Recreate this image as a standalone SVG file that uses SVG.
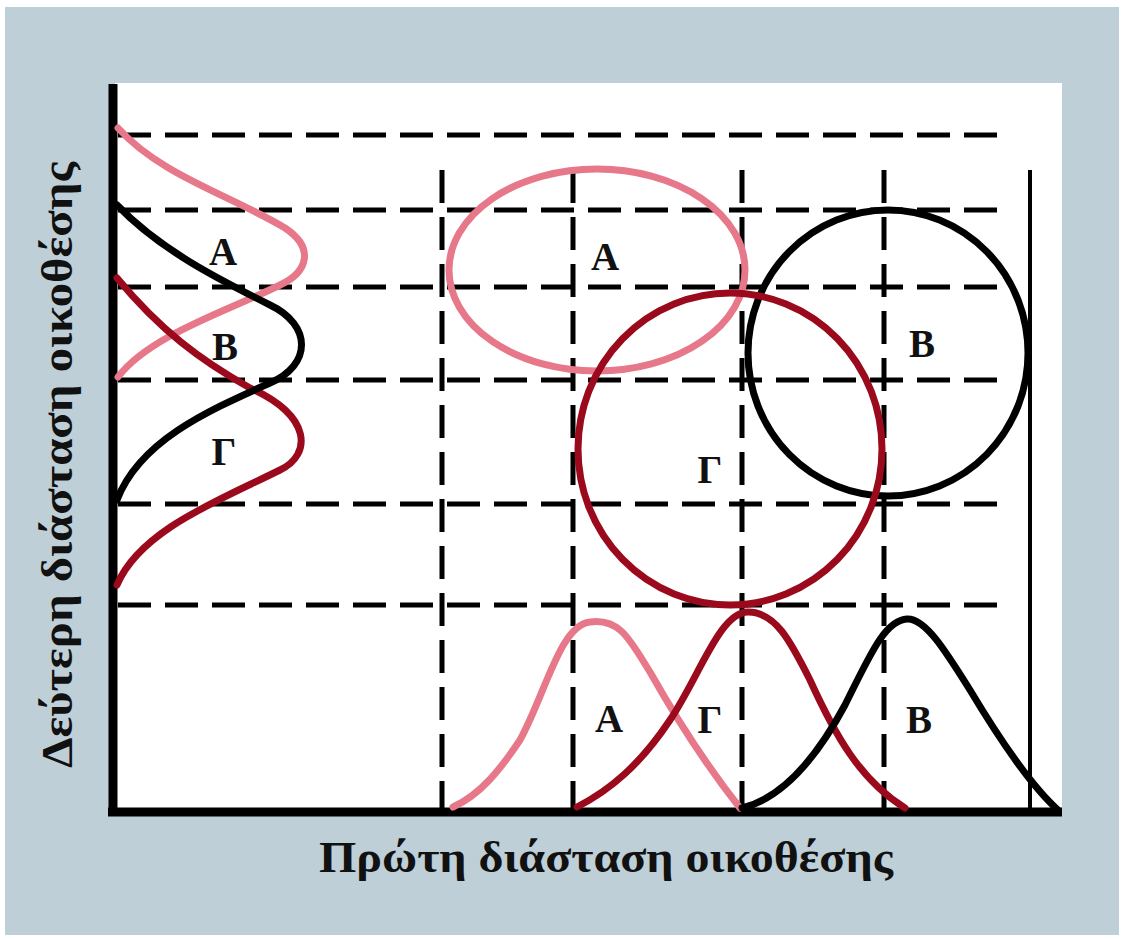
<svg xmlns="http://www.w3.org/2000/svg" width="1124" height="940" viewBox="0 0 1124 940">
<defs>
<style>
.dash{stroke:#000;stroke-width:5;stroke-dasharray:33 14;fill:none}
.solid{stroke:#000;fill:none}
.pink{stroke:#E6788A;stroke-width:7;fill:none;stroke-linecap:round}
.red{stroke:#9A0A1C;stroke-width:7;fill:none;stroke-linecap:round}
.blk{stroke:#000;stroke-width:7;fill:none;stroke-linecap:round}
.lbl{font-family:"Liberation Serif","DejaVu Serif",serif;font-weight:bold;font-size:39px;fill:#111;text-anchor:middle}
.axis{font-family:"Liberation Serif","DejaVu Serif",serif;font-weight:bold;font-size:44px;fill:#111;text-anchor:middle}
</style>
</defs>
<rect x="0" y="0" width="1124" height="940" fill="#fff"/>
<rect x="5" y="7" width="1114" height="928" fill="#BECFD8"/>
<rect x="115" y="83" width="947" height="729" fill="#fff"/>

<g id="grid">
<line class="dash" x1="118" y1="135" x2="997" y2="135"/>
<line class="dash" x1="118" y1="210" x2="997" y2="210"/>
<line class="dash" x1="118" y1="287" x2="997" y2="287"/>
<line class="dash" x1="118" y1="380" x2="997" y2="380"/>
<line class="dash" x1="118" y1="504" x2="997" y2="504"/>
<line class="dash" x1="118" y1="605" x2="997" y2="605"/>
<line class="dash" x1="442" y1="170" x2="442" y2="812"/>
<line class="dash" x1="573" y1="170" x2="573" y2="812"/>
<line class="dash" x1="742" y1="170" x2="742" y2="812"/>
<line class="dash" x1="884" y1="170" x2="884" y2="812"/>
<line class="solid" stroke-width="4" x1="1030" y1="170" x2="1030" y2="812"/>
</g>

<g id="axes">
<line class="solid" stroke-width="9" x1="113" y1="84" x2="113" y2="816"/>
<line class="solid" stroke-width="9" x1="108" y1="812" x2="1062" y2="812"/>
</g>

<g id="circles">
<ellipse id="circleB" class="blk" cx="888" cy="353" rx="140" ry="143"/>
<ellipse id="circleA" class="pink" cx="597" cy="270" rx="148" ry="101"/>
<ellipse id="circleG" class="red" cx="730" cy="449" rx="152" ry="156"/>
</g>

<g id="left-curves">
<path id="leftA" class="pink" d="M118,128 C160,175 230,195 285,228 C315,248 308,272 280,285 C230,310 150,335 118,377"/>
<path id="leftG" class="red" d="M117,278 C160,330 200,360 250,388 C312,415 312,455 280,470 C220,500 140,530 117,585"/>
<path id="leftB" class="blk" d="M117,205 C160,250 220,280 270,305 C312,325 312,365 270,383 C210,410 140,440 117,500"/>
</g>

<g id="bottom-curves">
<path id="botA" class="pink" d="M453,807 C480,795 500,770 520,740 C545,695 560,625 590,622 C620,618 630,640 650,672 C680,725 710,770 740,808"/>
<path id="botG" class="red" d="M577,807 C610,790 640,765 670,720 C700,675 720,612 748,612 C775,612 790,640 810,680 C835,735 860,780 905,808"/>
<path id="botB" class="blk" d="M742,808 C775,800 810,770 845,705 C870,655 885,620 907,619 C925,618 945,650 970,690 C1000,740 1030,785 1058,810"/>
</g>

<g id="labels">
<text class="lbl" x="223" y="265">Α</text>
<text class="lbl" x="225" y="360">Β</text>
<text class="lbl" x="224" y="465">Γ</text>
<text class="lbl" x="605" y="270">Α</text>
<text class="lbl" x="922" y="357">Β</text>
<text class="lbl" x="710" y="483">Γ</text>
<text class="lbl" x="609" y="732">Α</text>
<text class="lbl" x="710" y="733">Γ</text>
<text class="lbl" x="919" y="733">Β</text>
</g>

<g id="axis-labels">
<text class="axis" x="606" y="872" textLength="574" lengthAdjust="spacingAndGlyphs">Πρώτη διάσταση οικοθέσης</text>
<text class="axis" transform="translate(72,465) rotate(-90)" textLength="606" lengthAdjust="spacingAndGlyphs">Δεύτερη διάσταση οικοθέσης</text>
</g>
</svg>
